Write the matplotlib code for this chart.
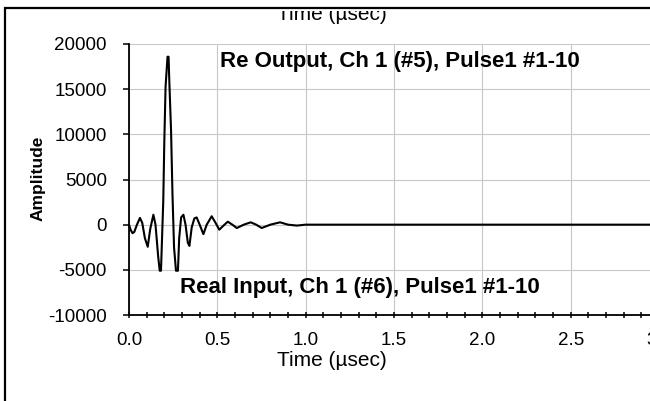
import matplotlib
matplotlib.use("Agg")
import matplotlib.pyplot as plt
from matplotlib.patches import Rectangle
from matplotlib.ticker import MultipleLocator
from matplotlib.transforms import Bbox

plt.rcParams["font.family"] = ["Liberation Sans", "DejaVu Sans"]
plt.rcParams["axes.unicode_minus"] = False

# ringing response, pulse 1 averaged over #1-10
time_us = [0.000, 0.010, 0.020, 0.030, 0.045, 0.062, 0.075, 0.090, 0.106, 0.120,
           0.138, 0.150, 0.165, 0.174, 0.181, 0.194, 0.200, 0.207, 0.218, 0.224,
           0.228, 0.238, 0.246, 0.255, 0.266, 0.277, 0.284, 0.295, 0.308, 0.320,
           0.333, 0.342, 0.355, 0.370, 0.383, 0.400, 0.421, 0.440, 0.468, 0.490,
           0.511, 0.535, 0.559, 0.585, 0.610, 0.650, 0.689, 0.720, 0.751, 0.800,
           0.855, 0.900, 0.950, 1.000, 3.000]
amplitude = [0, -600, -950, -800, 0, 750, 200, -1500, -2450, -500,
             1100, 0, -3500, -5100, -5100, 2670, 9330, 15260, 18590, 18590,
             16000, 10440, 3440, -2520, -5100, -5100, -1500, 800, 1100, 0,
             -2000, -2350, -300, 700, 800, 0, -1050, 0, 930, 200,
             -560, -100, 330, 0, -370, 0, 260, 0, -370, 0,
             260, 0, -100, 0, 0]

x_min, x_max = 0.0, 3.0
y_min, y_max = -10000, 20000
out_label = "Re Output, Ch 1 (#5), Pulse1 #1-10"
in_label = "Real Input, Ch 1 (#6), Pulse1 #1-10"

W, H = 650, 401
fig = plt.figure(figsize=(W / 100, H / 100), dpi=100)
ax = fig.add_axes([129 / W, 86 / H, 530 / W, 271 / H])

ax.plot(time_us, amplitude, color="black", linewidth=1.5, zorder=3, clip_on=False)
ax.set_xlim(x_min, x_max)
ax.set_ylim(y_min, y_max)

ax.xaxis.set_major_locator(MultipleLocator(0.5))
ax.xaxis.set_minor_locator(MultipleLocator(0.1))
ax.yaxis.set_major_locator(MultipleLocator(5000))
ax.grid(True, which="major", color="#c8c8c8", linewidth=0.8)
ax.set_axisbelow(True)

for s in ("top", "right"):
    ax.spines[s].set_visible(False)
for s in ("left", "bottom"):
    ax.spines[s].set_linewidth(1.3)

ax.tick_params(axis="x", which="both", direction="inout", length=5, width=1.1,
               labelsize=13.5, pad=10)
ax.tick_params(axis="y", which="major", direction="out", length=4, width=1.1,
               labelsize=13.5, pad=12)
for lbl in ax.get_xticklabels():
    lbl.set_clip_on(False)

ax.text(220 / W, 1 - 62 / H, out_label, transform=fig.transFigure,
        fontsize=16, fontweight="bold", ha="left", va="center")
ax.text(180 / W, 1 - 287 / H, in_label, transform=fig.transFigure,
        fontsize=16, fontweight="bold", ha="left", va="center")

fig.text(332 / W, 1 - 361 / H, "Time (µsec)", fontsize=15, ha="center", va="center")
fig.text(38 / W, 1 - 178 / H, "Amplitude", fontsize=12.5, fontweight="bold",
         rotation=90, ha="center", va="center")

# label of the panel above, cut off by the frame
top = fig.text(332 / W, 1 - 20 / H, "Time (µsec)", fontsize=15, ha="center",
               va="baseline")
top.set_clip_box(Bbox.from_extents(0, 0, W, H - 11))

# outer frame, runs past the right and bottom edges
fig.patches.append(Rectangle((5 / W, -0.1), 1.2, 1 - 8 / H + 0.1,
                             transform=fig.transFigure, fill=False,
                             edgecolor="black", linewidth=1.6))

fig.savefig("out.png", dpi=100)
